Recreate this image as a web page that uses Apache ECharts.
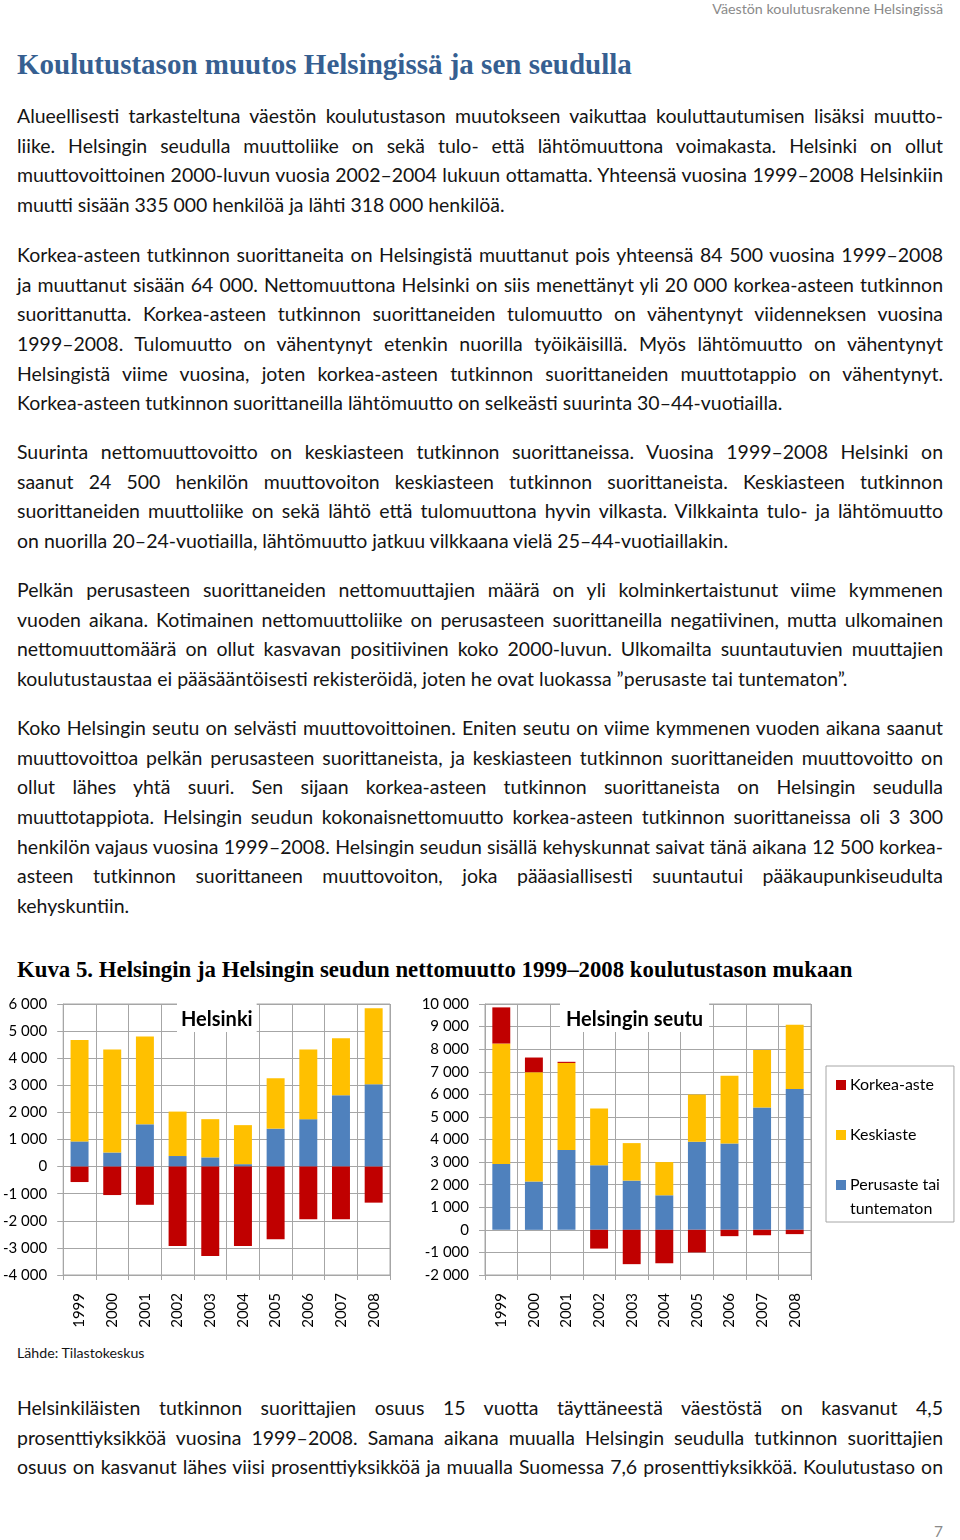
<!DOCTYPE html>
<html><head><meta charset="utf-8">
<script src="https://cdn.jsdelivr.net/npm/echarts@6/dist/echarts.min.js"></script>
<style>
html,body{margin:0;padding:0;background:#fff;}
body{width:960px;height:1540px;position:relative;overflow:hidden;font-family:Lato,sans-serif;color:#141414;}
.abs{position:absolute;white-space:nowrap;}
.para{position:absolute;left:17px;width:926px;line-height:29.6px;}
.para div{white-space:normal;}
.j{text-align:justify;text-align-last:justify;}
.l{text-align:left;}
#hdr{color:#8a8a8a;}
#h1{font-family:"Liberation Serif",serif;font-weight:bold;color:#365f91;}
#cap{font-family:"Liberation Serif",serif;font-weight:bold;color:#000;}
#chart{position:absolute;left:0;top:985px;width:960px;height:355px;}
</style></head>
<body>
<div class="abs" id="hdr">Väestön koulutusrakenne Helsingissä</div>
<div class="abs" id="h1">Koulutustason muutos Helsingissä ja sen seudulla</div>

<div class="para" data-c="116">
<div class="j">Alueellisesti tarkasteltuna väestön koulutustason muutokseen vaikuttaa kouluttautumisen lisäksi muutto-</div>
<div class="j">liike. Helsingin seudulla muuttoliike on sekä tulo- että lähtömuuttona voimakasta. Helsinki on ollut</div>
<div class="j">muuttovoittoinen 2000-luvun vuosia 2002–2004 lukuun ottamatta. Yhteensä vuosina 1999–2008 Helsinkiin</div>
<div class="l" id="calib">muutti sisään 335 000 henkilöä ja lähti 318 000 henkilöä.</div>
</div>

<div class="para" data-c="255">
<div class="j">Korkea-asteen tutkinnon suorittaneita on Helsingistä muuttanut pois yhteensä 84 500 vuosina 1999–2008</div>
<div class="j">ja muuttanut sisään 64 000. Nettomuuttona Helsinki on siis menettänyt yli 20 000 korkea-asteen tutkinnon</div>
<div class="j">suorittanutta. Korkea-asteen tutkinnon suorittaneiden tulomuutto on vähentynyt viidenneksen vuosina</div>
<div class="j">1999–2008. Tulomuutto on vähentynyt etenkin nuorilla työikäisillä. Myös lähtömuutto on vähentynyt</div>
<div class="j">Helsingistä viime vuosina, joten korkea-asteen tutkinnon suorittaneiden muuttotappio on vähentynyt.</div>
<div class="l">Korkea-asteen tutkinnon suorittaneilla lähtömuutto on selkeästi suurinta 30–44-vuotiailla.</div>
</div>

<div class="para" data-c="452">
<div class="j">Suurinta nettomuuttovoitto on keskiasteen tutkinnon suorittaneissa. Vuosina 1999–2008 Helsinki on</div>
<div class="j">saanut 24 500 henkilön muuttovoiton keskiasteen tutkinnon suorittaneista. Keskiasteen tutkinnon</div>
<div class="j">suorittaneiden muuttoliike on sekä lähtö että tulomuuttona hyvin vilkasta. Vilkkainta tulo- ja lähtömuutto</div>
<div class="l">on nuorilla 20–24-vuotiailla, lähtömuutto jatkuu vilkkaana vielä 25–44-vuotiaillakin.</div>
</div>

<div class="para" data-c="590">
<div class="j">Pelkän perusasteen suorittaneiden nettomuuttajien määrä on yli kolminkertaistunut viime kymmenen</div>
<div class="j">vuoden aikana. Kotimainen nettomuuttoliike on perusasteen suorittaneilla negatiivinen, mutta ulkomainen</div>
<div class="j">nettomuuttomäärä on ollut kasvavan positiivinen koko 2000-luvun. Ulkomailta suuntautuvien muuttajien</div>
<div class="l">koulutustaustaa ei pääsääntöisesti rekisteröidä, joten he ovat luokassa ”perusaste tai tuntematon”.</div>
</div>

<div class="para" data-c="728">
<div class="j">Koko Helsingin seutu on selvästi muuttovoittoinen. Eniten seutu on viime kymmenen vuoden aikana saanut</div>
<div class="j">muuttovoittoa pelkän perusasteen suorittaneista, ja keskiasteen tutkinnon suorittaneiden muuttovoitto on</div>
<div class="j">ollut lähes yhtä suuri. Sen sijaan korkea-asteen tutkinnon suorittaneista on Helsingin seudulla</div>
<div class="j">muuttotappiota. Helsingin seudun kokonaisnettomuutto korkea-asteen tutkinnon suorittaneissa oli 3 300</div>
<div class="j">henkilön vajaus vuosina 1999–2008. Helsingin seudun sisällä kehyskunnat saivat tänä aikana 12 500 korkea-</div>
<div class="j">asteen tutkinnon suorittaneen muuttovoiton, joka pääasiallisesti suuntautui pääkaupunkiseudulta</div>
<div class="l">kehyskuntiin.</div>
</div>

<div class="abs" id="cap">Kuva 5. Helsingin ja Helsingin seudun nettomuutto 1999–2008 koulutustason mukaan</div>

<div id="chart"></div>

<div class="abs" id="src">Lähde: Tilastokeskus</div>

<div class="para" data-c="1408">
<div class="j">Helsinkiläisten tutkinnon suorittajien osuus 15 vuotta täyttäneestä väestöstä on kasvanut 4,5</div>
<div class="j">prosenttiyksikköä vuosina 1999–2008. Samana aikana muualla Helsingin seudulla tutkinnon suorittajien</div>
<div class="j">osuus on kasvanut lähes viisi prosenttiyksikköä ja muualla Suomessa 7,6 prosenttiyksikköä. Koulutustaso on</div>
</div>

<div class="abs" id="pg" style="color:#8a8a8a;">7</div>

<script>
// ---- Data ----
const years = ['1999','2000','2001','2002','2003','2004','2005','2006','2007','2008'];
const seriesNames = ['Korkea-aste','Keskiaste','Perusaste tai tuntematon'];
// Helsinki
const helPerus  = [930, 520, 1560, 390, 340, 90, 1400, 1750, 2630, 3040];
const helKeski  = [3740, 3800, 3240, 1640, 1410, 1440, 1860, 2570, 2110, 2800];
const helKorkea = [-570, -1050, -1410, -2930, -3300, -2930, -2680, -1940, -1940, -1330];
// Helsingin seutu
const seuPerus  = [2920, 2140, 3540, 2860, 2180, 1530, 3900, 3820, 5420, 6240];
const seuKeski  = [5330, 4840, 3850, 2510, 1660, 1470, 2090, 3000, 2540, 2840];
const seuKorkea = [1600, 650, 50, -830, -1520, -1480, -1000, -280, -240, -190];
const helTicks = {min:-4000, max:6000, interval:1000};
const seuTicks = {min:-2000, max:10000, interval:1000};

// ---- Text layout helpers ----
const cv = document.createElement('canvas').getContext('2d');
function tw(text, font){ cv.font = font; return cv.measureText(text).width; }
function place(id, font, targetW, left, cy, alignRight){
  const el = document.getElementById(id);
  const w = tw(el.textContent, font.replace('SZ', '100px'));
  const fs = 100*targetW/w;
  el.style.fontSize = fs+'px';
  el.style.lineHeight = (fs*1.2)+'px';
  el.style.top = (cy - fs*0.6)+'px';
  if(alignRight){ el.style.right = (960-left)+'px'; } else { el.style.left = left+'px'; }
  return fs;
}
const bodyFs = 100*488/tw(document.getElementById('calib').textContent, '100px Lato');
document.querySelectorAll('.para').forEach(p=>{
  p.style.fontSize = bodyFs+'px';
  p.style.top = (parseFloat(p.dataset.c) - 14.8)+'px';
  p.querySelectorAll('div').forEach(d=>{
    const t = d.textContent;
    const w = tw(t, bodyFs+'px Lato');
    if(w > 924){ d.style.letterSpacing = ((924 - w)/t.length)+'px'; }
  });
});
place('hdr', 'SZ Lato', 231, 943, 9, true);
place('h1', 'bold SZ "Liberation Serif"', 615, 17, 64, false);
place('cap', 'bold SZ "Liberation Serif"', 836, 17, 970, false);
place('src', 'SZ Lato', 128, 17, 1353, false);
place('pg', 'SZ Lato', 9, 943, 1531, true);

// ---- Chart ----
const RED='#c00000', YEL='#ffc000', BLU='#4f81bd', GRID='#a6a6a6';
const fmt = v => { const s = Math.abs(v).toString().replace(/\B(?=(\d{3})+(?!\d))/g,' '); return (v<0?'-':'')+s; };
function xAx(gi){
  return {type:'category', gridIndex:gi, data:years,
    axisLine:{show:true, onZero:false, lineStyle:{color:GRID}},
    axisTick:{show:true, length:5, lineStyle:{color:GRID}},
    splitLine:{show:true, lineStyle:{color:GRID}},
    axisLabel:{rotate:90, margin:18, fontSize:15, color:'#000', fontFamily:'Lato'}};
}
function yAx(gi, t){
  return {type:'value', gridIndex:gi, min:t.min, max:t.max, interval:t.interval,
    axisLine:{show:true, lineStyle:{color:GRID}},
    axisTick:{show:true, length:6, lineStyle:{color:GRID}},
    splitLine:{show:true, lineStyle:{color:GRID}},
    axisLabel:{formatter:fmt, margin:16, fontSize:15, color:'#000', fontFamily:'Lato'}};
}
function bars(gi, perus, keski, korkea){
  const base = {type:'bar', xAxisIndex:gi, yAxisIndex:gi, stack:'s'+gi, barWidth:'55%'};
  return [
    Object.assign({}, base, {name:seriesNames[2], data:perus, itemStyle:{color:BLU}}),
    Object.assign({}, base, {name:seriesNames[1], data:keski, itemStyle:{color:YEL}}),
    Object.assign({}, base, {name:seriesNames[0], data:korkea, itemStyle:{color:RED}})
  ];
}
const sw = c => ({width:10, height:10, backgroundColor:c, verticalAlign:'middle', lineHeight:24});
const legendFmt = n => {
  if (n === seriesNames[0]) return '{r|}{g|}' + n;
  if (n === seriesNames[1]) return '{y|}{g|}' + n;
  return '{b|}{g|}Perusaste tai\n{g2|}tuntematon';
};
const chart = echarts.init(document.getElementById('chart'), null, {renderer:'canvas'});
chart.setOption({
  animation:false,
  textStyle:{fontFamily:'Lato'},
  title:[
    {text:'Helsinki', left:177, top:18, padding:[7,4,2,4], backgroundColor:'#fff', z:10,
     textStyle:{fontSize:20, fontWeight:'bold', color:'#000', fontFamily:'Lato'}},
    {text:'Helsingin seutu', left:560, top:18, padding:[7,6,2,6], backgroundColor:'#fff', z:10,
     textStyle:{fontSize:20, fontWeight:'bold', color:'#000', fontFamily:'Lato'}}
  ],
  legend:{orient:'vertical', left:826, top:81, data:seriesNames,
    borderColor:GRID, borderWidth:1, padding:[7,14,1,5], itemGap:26,
    itemWidth:0, itemHeight:10, icon:'rect', itemStyle:{opacity:0},
    formatter: legendFmt,
    textStyle:{fontSize:16, color:'#000', lineHeight:24, fontFamily:'Lato',
      rich:{r:sw(RED), y:sw(YEL), b:sw(BLU), g:{width:4}, g2:{width:14}}}},
  grid:[
    {left:62, top:19, width:328, height:271, show:true, borderColor:GRID, borderWidth:1},
    {left:485, top:19, width:326, height:271, show:true, borderColor:GRID, borderWidth:1}
  ],
  xAxis:[xAx(0), xAx(1)],
  yAxis:[yAx(0, helTicks), yAx(1, seuTicks)],
  series:[].concat(bars(0, helPerus, helKeski, helKorkea), bars(1, seuPerus, seuKeski, seuKorkea))
});
</script>
</body></html>
